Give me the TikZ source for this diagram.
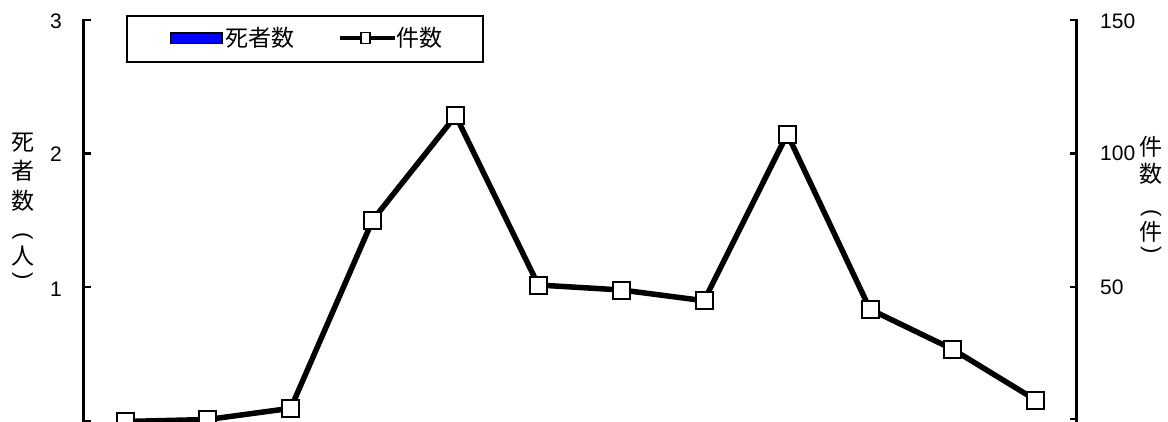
\documentclass[tikz,border=0pt]{standalone}
\usepackage{fontspec}
\setmainfont{Liberation Sans}
\newfontfamily\jp{Noto Sans CJK JP}
\begin{document}
\begin{tikzpicture}[x=1pt,y=-1pt,
  axisline/.style={line width=2.5pt},
  tickline/.style={line width=2.5pt},
  numlbl/.style={inner sep=0pt,font=\fontsize{21}{21}\selectfont},
  jplbl/.style={inner sep=0pt,font=\jp\fontsize{23}{23}\selectfont},
  parlbl/.style={inner sep=0pt,rotate=-90,font=\fontsize{22}{22}\selectfont},
  series/.style={line width=5.5pt,line join=miter},
  mk/.style={draw=black,fill=white,line width=2pt,minimum size=17pt,inner sep=0pt,shape=rectangle}]
\useasboundingbox (0,0) rectangle (1168,421);
\fill[white] (0,0) rectangle (1168,421);
% left axis
\draw[axisline] (83.5,19) -- (83.5,424);
\foreach \yy in {20,153.5,287,421}{\draw[tickline] (83.5,\yy) -- (91,\yy);}
\node[numlbl,anchor=east] (l3) at (62,21) {3};
\node[numlbl,anchor=east] (l2) at (62,154) {2};
\node[numlbl,anchor=east] (l1) at (62,289) {1};
% right axis
\draw[axisline] (1076.5,19) -- (1076.5,424);
\foreach \yy in {20,153.5,287,419}{\draw[tickline] (1076.5,\yy) -- (1070,\yy);}
\node[numlbl,anchor=west] (r150) at (1100,21) {150};
\node[numlbl,anchor=west] (r100) at (1100,153.5) {100};
\node[numlbl,anchor=west] (r50) at (1100,287) {50};
% left axis title
\node[jplbl] (lt1) at (22.5,143) {死};
\node[jplbl] (lt2) at (22.5,171) {者};
\node[jplbl] (lt3) at (22.5,201) {数};
\node[parlbl] (lt4) at (22.5,236) {(};
\node[jplbl] (lt5) at (22.5,256) {人};
\node[parlbl] (lt6) at (22.5,276) {)};
% right axis title
\node[jplbl] (rt1) at (1151,146.5) {件};
\node[jplbl] (rt2) at (1151,174) {数};
\node[parlbl] (rt3) at (1151,213) {(};
\node[jplbl] (rt4) at (1151,231.5) {件};
\node[parlbl] (rt5) at (1151,250) {)};
% legend
\node[draw=black,line width=2pt,minimum width=355.5pt,minimum height=45.5pt,inner sep=0pt,anchor=north west] (leg) at (126,15) {};
\node[draw=black,fill=blue,line width=1.5pt,minimum width=51.5pt,minimum height=10.5pt,inner sep=0pt] (legbar) at (196,38) {};
\node[jplbl,anchor=west] (legt1) at (225.5,38) {死者数};
\coordinate (lgA) at (340,38);
\coordinate (lgB) at (395,38);
\draw[line width=4pt] (lgA) -- (lgB);
\node[draw=black,fill=white,line width=1.5pt,minimum width=9pt,minimum height=11pt,inner sep=0pt] (legmk) at (365.7,38) {};
\node[jplbl,anchor=west] (legt2) at (396.5,38) {件数};
% data series
\coordinate (c1) at (125,421.5);
\coordinate (c2) at (207.7,419.5);
\coordinate (c3) at (290.7,408.3);
\coordinate (c4) at (372.7,220);
\coordinate (c5) at (455.7,115.7);
\coordinate (c6) at (538.3,285);
\coordinate (c7) at (621.7,290);
\coordinate (c8) at (704,300.7);
\coordinate (c9) at (787.3,134);
\coordinate (c10) at (870,309.3);
\coordinate (c11) at (952.7,349.3);
\coordinate (c12) at (1035.7,400);
\draw[series] (c1) -- (c2) -- (c3) -- (c4) -- (c5) -- (c6) -- (c7) -- (c8) -- (c9) -- (c10) -- (c11) -- (c12);
\foreach \i in {1,...,12}{\node[mk] (p\i) at (c\i) {};}
\end{tikzpicture}
\end{document}
